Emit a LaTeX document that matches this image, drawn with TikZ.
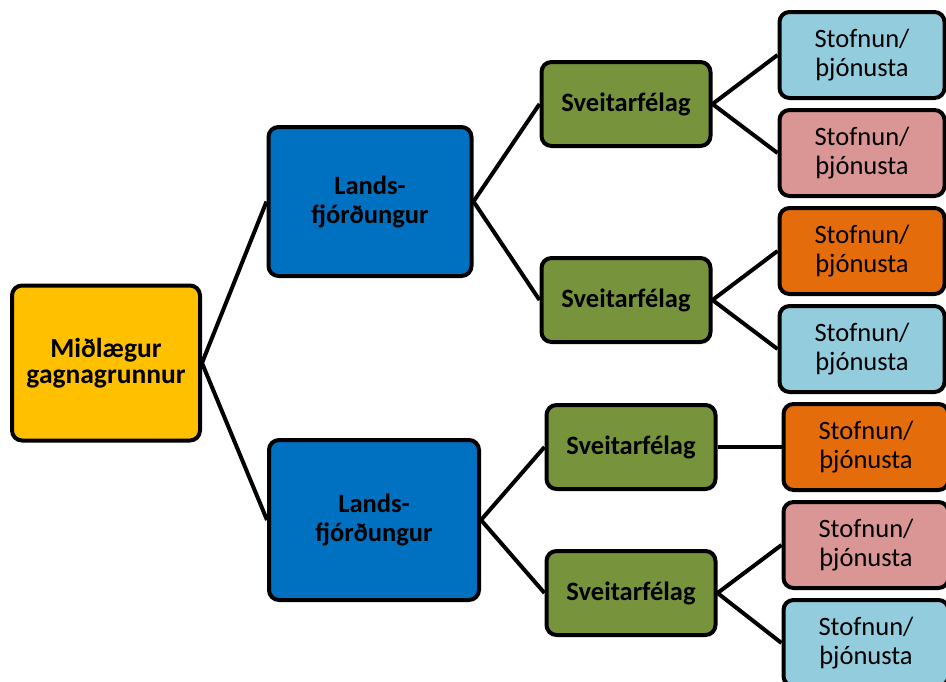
\documentclass[tikz,border=0pt]{standalone}
\usepackage{fontspec}
\setmainfont{Carlito}
\definecolor{cyel}{HTML}{FFC000}
\definecolor{cblue}{HTML}{0070C0}
\definecolor{cgreen}{HTML}{77933C}
\definecolor{clblue}{HTML}{93CDDD}
\definecolor{cpink}{HTML}{D99694}
\definecolor{corange}{HTML}{E46C0A}
\begin{document}
\begin{tikzpicture}[x=1pt,y=-1pt,
  box/.style={draw=black,line width=4pt,rounded corners=10pt,align=center,inner sep=0pt,
    font=\fontsize{26.5}{28.5}\selectfont},
  rootbox/.style={box,fill=cyel,minimum width=188pt,minimum height=155pt,font=\fontsize{27.5}{26}\selectfont\bfseries},
  regbox/.style={box,fill=cblue,font=\fontsize{26.5}{29}\selectfont\bfseries},
  munbox/.style={box,fill=cgreen,minimum width=169pt,minimum height=84pt,font=\fontsize{26.5}{29}\selectfont\bfseries},
  leafbox/.style={box,minimum width=165pt,minimum height=86pt},
  link/.style={draw=black,line width=4pt}]
\useasboundingbox[clip] (0,0) rectangle (946,681);
\node[rootbox] (root) at (106,363) {Miðlægur\\gagnagrunnur};
\node[regbox,minimum width=203pt,minimum height=149pt] (r1) at (370,201.5) {Lands-\\fjórðungur};
\node[regbox,minimum width=210pt,minimum height=160pt] (r2) at (374,520) {Lands-\\fjórðungur};
\node[munbox] (m1) at (626,104) {Sveitarfélag};
\node[munbox] (m2) at (626,300) {Sveitarfélag};
\node[munbox] (m3) at (631,447) {Sveitarfélag};
\node[munbox] (m4) at (631,593) {Sveitarfélag};
\node[leafbox,fill=clblue] (l1) at (862,55) {Stofnun/\\þjónusta};
\node[leafbox,fill=cpink] (l2) at (862,153) {Stofnun/\\þjónusta};
\node[leafbox,fill=corange] (l3) at (862,251) {Stofnun/\\þjónusta};
\node[leafbox,fill=clblue] (l4) at (862,349) {Stofnun/\\þjónusta};
\node[leafbox,fill=corange] (l5) at (866,447) {Stofnun/\\þjónusta};
\node[leafbox,fill=cpink] (l6) at (866,545) {Stofnun/\\þjónusta};
\node[leafbox,fill=clblue] (l7) at (866,643) {Stofnun/\\þjónusta};
\path[link] (root.east) -- (r1.west);
\path[link] (root.east) -- (r2.west);
\path[link] (r1.east) -- (m1.west);
\path[link] (r1.east) -- (m2.west);
\path[link] (r2.east) -- (m3.west);
\path[link] (r2.east) -- (m4.west);
\path[link] (m1.east) -- (l1.west);
\path[link] (m1.east) -- (l2.west);
\path[link] (m2.east) -- (l3.west);
\path[link] (m2.east) -- (l4.west);
\path[link] (m3.east) -- (l5.west);
\path[link] (m4.east) -- (l6.west);
\path[link] (m4.east) -- (l7.west);
\end{tikzpicture}
\end{document}
